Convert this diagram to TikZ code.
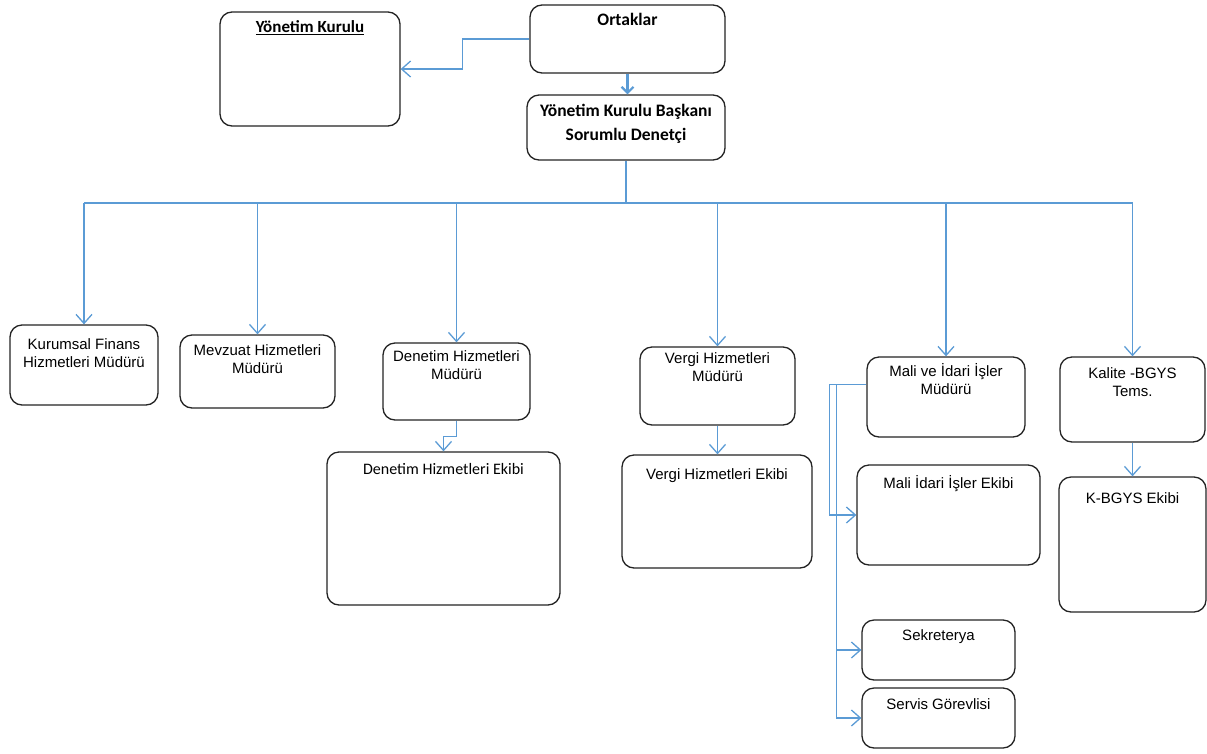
\documentclass[tikz,border=0pt]{standalone}
\usepackage{fontspec}
\setmainfont{Liberation Sans}
\newfontfamily\calib{Carlito}
\usetikzlibrary{arrows.meta}
\definecolor{lineblue}{RGB}{91,155,213}
\definecolor{boxline}{RGB}{35,35,35}
\newcommand{\boxtext}[4]{\parbox[c][#2][t]{#1}{\vspace*{#3}\centering #4\par}}
\begin{document}
\begin{tikzpicture}[x=1pt,y=-1pt,
  box/.style={draw=boxline, line width=1.3pt, rounded corners=12pt, inner sep=0pt,
    font=\fontsize{15}{18}\selectfont},
  conn/.style={draw=lineblue, line width=1.3pt},
  arr/.style={conn, -{Straight Barb[length=9pt,width=16pt,line width=1.3pt]}},
  thickarr/.style={draw=lineblue, line width=2.6pt, -{Straight Barb[length=6pt,width=12pt,line width=2.2pt]}}
]
\useasboundingbox (0,0) rectangle (1207,753);

% top level
\node[box] (yk) at (310,69) {\boxtext{180pt}{114pt}{9pt}{\calib\bfseries\fontsize{17}{20}\selectfont\underline{Yönetim Kurulu}}};
\node[box] (ort) at (627.5,39) {\boxtext{195pt}{68pt}{8pt}{\calib\bfseries\fontsize{17.5}{20}\selectfont Ortaklar}};
\node[box] (ykb) at (626,127.5) {\boxtext{198pt}{65pt}{9pt}{\calib\bfseries\fontsize{17.5}{24}\selectfont Yönetim Kurulu Başkanı\\Sorumlu Denetçi}};

% managers
\node[box] (kf) at (84,365) {\boxtext{148pt}{80pt}{14pt}{Kurumsal Finans\\Hizmetleri Müdürü}};
\node[box] (mev) at (257.5,371.5) {\boxtext{155pt}{73pt}{10pt}{Mevzuat Hizmetleri\\Müdürü}};
\node[box] (dm) at (456.5,381.5) {\boxtext{147pt}{77pt}{8pt}{Denetim Hizmetleri\\Müdürü}};
\node[box] (vm) at (717.5,386) {\boxtext{155pt}{78pt}{6pt}{Vergi Hizmetleri\\Müdürü}};
\node[box] (mim) at (946,397) {\boxtext{158pt}{80pt}{6pt}{Mali ve İdari İşler\\Müdürü}};
\node[box] (kal) at (1132.5,399.5) {\boxtext{145pt}{85pt}{11pt}{Kalite -BGYS\\Tems.}};

% teams
\node[box] (de) at (443.5,528.5) {\boxtext{233pt}{153pt}{11pt}{\calib\fontsize{16}{19}\selectfont Denetim Hizmetleri Ekibi}};
\node[box] (ve) at (717,511.5) {\boxtext{190pt}{113pt}{14pt}{Vergi Hizmetleri Ekibi}};
\node[box] (me) at (948.5,515) {\boxtext{183pt}{100pt}{10pt}{Mali İdari İşler Ekibi}};
\node[box] (kbe) at (1132.5,544.5) {\boxtext{147pt}{135pt}{16pt}{K-BGYS Ekibi}};
\node[box] (sek) at (938.5,650) {\boxtext{153pt}{60pt}{10pt}{Sekreterya}};
\node[box] (ser) at (938.5,718) {\boxtext{153pt}{60pt}{11pt}{Servis Görevlisi}};

% connectors top
\draw[arr] (ort.west) -- ++(-67,0) |- (yk.east);
\draw[thickarr] (ort.south) -- (ort.south |- ykb.north);

% bus
\coordinate (bus) at (626,203);
\draw[conn] (ykb.south) -- (bus);
\draw[conn] (bus -| kf.north) -- (bus -| kal.north);
\foreach \n in {kf,mev,dm,vm,mim,kal}
  \draw[arr] (bus -| \n.north) -- (\n.north);

% manager to team
\draw[arr] (dm.south) -- ++(0,16) -| (de.north);
\draw[arr] (vm.south) -- (vm.south |- ve.north);
\draw[arr] (kal.south) -- (kal.south |- kbe.north);

% Mali ve Idari branch
\coordinate (mimL) at ([yshift=-28pt]mim.north west);
\coordinate (outerV) at ([xshift=-37pt]mimL);
\coordinate (innerV) at ([xshift=-30pt]mimL);
\draw[conn] (mimL) -- (outerV);
\draw[arr] (outerV) |- (me.west);
\draw[arr] (innerV) |- (ser.west);
\draw[arr] (innerV |- sek.west) -- (sek.west);
\end{tikzpicture}
\end{document}
